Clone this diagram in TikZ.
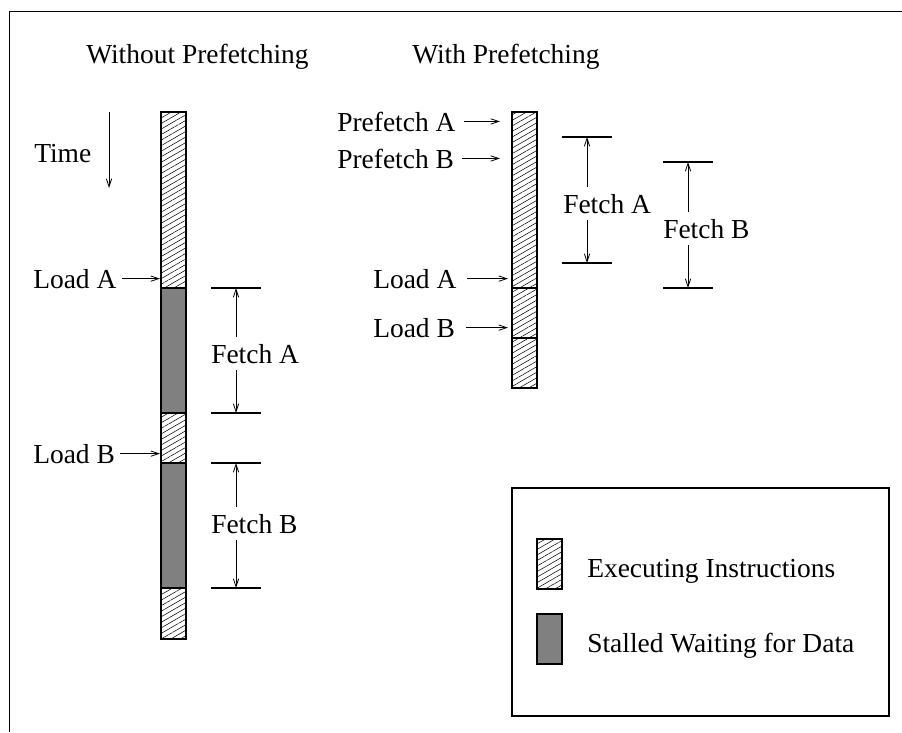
\documentclass[tikz,border=0pt]{standalone}
\usepackage{fontspec}
\setmainfont{Liberation Serif}
\usetikzlibrary{patterns.meta,arrows.meta}
\definecolor{stallgray}{RGB}{128,128,128}
\begin{document}
\begin{tikzpicture}[x=0.75pt,y=-0.75pt,
  lbl/.style={inner sep=0pt,anchor=base west,font=\fontsize{20.6}{24}\selectfont},
  hatch/.style={draw=black,line width=0.8pt,pattern={Lines[angle=30,distance=3.6pt,line width=0.4pt]}},
  stall/.style={draw=black,line width=0.8pt,fill=stallgray},
  arr/.style={line width=0.6pt,-{Straight Barb[length=6pt,width=4pt]}},
  tick/.style={line width=0.8pt},
  frame/.style={line width=1.1pt}]
\useasboundingbox (0,0) rectangle (902,732);
% frame
\draw[frame] (9.5,732) -- (9.5,11.5) -- (902,11.5);
% titles
\node[lbl] (t1) at (86,63) {Without Prefetching};
\node[lbl] (t2) at (412,63) {With Prefetching};
% time
\node[lbl] (time) at (34,162) {Time};
\coordinate (time1) at (109,112);
\coordinate (time2) at (109,188);
\draw[arr] (time1) -- (time2);
% left bar
\draw[hatch] (161,112) rectangle (186,288);
\draw[stall] (161,288) rectangle (186,413);
\draw[hatch] (161,413) rectangle (186,463);
\draw[stall] (161,463) rectangle (186,588);
\draw[hatch] (161,588) rectangle (186,639);
\coordinate (Lbar) at (160,0);
\node[lbl] (la) at (33,288) {Load A};
\node[lbl] (lb) at (33,463) {Load B};
\draw[arr] ([xshift=4pt]la.east) -- (la.east -| Lbar);
\draw[arr] ([xshift=4pt]lb.east) -- (lb.east -| Lbar);
% left fetch A
\coordinate (fa1) at (236,288);
\coordinate (fa2) at (236,413);
\draw[tick] (211,288) -- (261,288);
\draw[tick] (211,413) -- (261,413);
\node[lbl] (fa) at (211,363) {Fetch A};
\draw[arr] ([yshift=5pt]fa.north -| fa1) -- (fa1);
\draw[arr] ([yshift=-5pt]fa.south -| fa2) -- (fa2);
% left fetch B
\coordinate (fb1) at (236,463);
\coordinate (fb2) at (236,588);
\draw[tick] (211,463) -- (261,463);
\draw[tick] (211,588) -- (261,588);
\node[lbl] (fb) at (211,533) {Fetch B};
\draw[arr] ([yshift=5pt]fb.north -| fb1) -- (fb1);
\draw[arr] ([yshift=-5pt]fb.south -| fb2) -- (fb2);
% right bar
\draw[hatch] (512,112) rectangle (537,388);
\draw[line width=0.8pt] (512,288) -- (537,288);
\draw[line width=0.8pt] (512,338) -- (537,338);
\node[lbl] (pa) at (337,131) {Prefetch A};
\node[lbl] (pb) at (337,168) {Prefetch B};
\node[lbl] (ra) at (373,288) {Load A};
\node[lbl] (rb) at (373,337) {Load B};
\coordinate (Pend) at (500,0);
\coordinate (Rend) at (508,0);
\draw[arr] ([xshift=6pt]pa.east) -- (pa.east -| Pend);
\draw[arr] ([xshift=6pt]pb.east) -- (pb.east -| Pend);
\draw[arr] ([xshift=8pt]ra.east) -- (ra.east -| Rend);
\draw[arr] ([xshift=8pt]rb.east) -- (rb.east -| Rend);
% right fetch A
\coordinate (ga1) at (587,137);
\coordinate (ga2) at (587,263);
\draw[tick] (562,137) -- (612,137);
\draw[tick] (562,263) -- (612,263);
\node[lbl] (ga) at (563,213) {Fetch A};
\draw[arr] ([yshift=5pt]ga.north -| ga1) -- (ga1);
\draw[arr] ([yshift=-5pt]ga.south -| ga2) -- (ga2);
% right fetch B
\coordinate (gb1) at (688,162);
\coordinate (gb2) at (688,288);
\draw[tick] (663,162) -- (713,162);
\draw[tick] (663,288) -- (713,288);
\node[lbl] (gb) at (663,238) {Fetch B};
\draw[arr] ([yshift=5pt]gb.north -| gb1) -- (gb1);
\draw[arr] ([yshift=-5pt]gb.south -| gb2) -- (gb2);
% legend
\draw[line width=0.8pt] (512,488) rectangle (889,716);
\draw[hatch] (537,539) rectangle (562,589);
\draw[stall] (537,614) rectangle (562,664);
\node[lbl] (le) at (587,577) {Executing Instructions};
\node[lbl] (ls) at (587,652) {Stalled Waiting for Data};
\end{tikzpicture}
\end{document}
